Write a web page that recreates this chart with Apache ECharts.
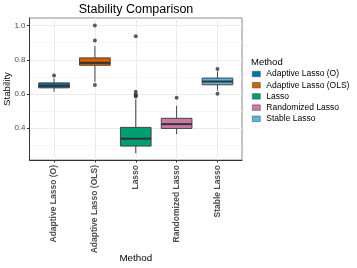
<!DOCTYPE html>
<html><head><meta charset="utf-8">
<script src="https://cdn.jsdelivr.net/npm/echarts@6/dist/echarts.min.js"></script>
<style>html,body{margin:0;padding:0;background:#fff}#c{width:357px;height:268px}</style>
</head><body><div id="c"></div>
<script>
const categories = ['Adaptive Lasso (O)', 'Adaptive Lasso (OLS)', 'Lasso', 'Randomized Lasso', 'Stable Lasso'];
const colors = ['#0072B2', '#D55E00', '#009E73', '#CC79A7', '#56B4E9'];
// [lower whisker, Q1, median, Q3, upper whisker]
const boxStats = [
  [0.613, 0.636, 0.648, 0.665, 0.691],
  [0.671, 0.768, 0.782, 0.811, 0.881],
  [0.254, 0.296, 0.339, 0.405, 0.569],
  [0.366, 0.399, 0.424, 0.458, 0.531],
  [0.620, 0.654, 0.673, 0.693, 0.732]
];
// outliers: [category index, value]
const outliers = [
  [0, 0.708],
  [1, 1.000], [1, 0.913], [1, 0.652],
  [2, 0.938], [2, 0.613], [2, 0.597], [2, 0.591], [2, 0.585],
  [3, 0.578],
  [4, 0.746], [4, 0.601]
];
const yMajor = [0.4, 0.6, 0.8, 1.0];
const yMinor = [0.3, 0.5, 0.7, 0.9];
const xTicks = [0, 1, 2, 3, 4];

const FONT = 'Liberation Sans';
const chart = echarts.init(document.getElementById('c'), null, {renderer: 'canvas'});

function renderBox(params, api) {
  const x = api.value(0);
  const lo = api.coord([x, api.value(1)]);
  const q1 = api.coord([x, api.value(2)]);
  const med = api.coord([x, api.value(3)]);
  const q3 = api.coord([x, api.value(4)]);
  const hi = api.coord([x, api.value(5)]);
  const half = api.size([0.75, 0])[0] / 2;
  const color = api.visual('color');
  const edge = '#444444';
  return {type: 'group', children: [
    {type: 'line', shape: {x1: lo[0], y1: lo[1], x2: q1[0], y2: q1[1]}, style: {stroke: edge, lineWidth: 1}},
    {type: 'line', shape: {x1: q3[0], y1: q3[1], x2: hi[0], y2: hi[1]}, style: {stroke: edge, lineWidth: 1}},
    {type: 'rect', shape: {x: q3[0] - half, y: q3[1], width: half * 2, height: q1[1] - q3[1]}, style: {fill: color, stroke: edge, lineWidth: 1}},
    {type: 'line', shape: {x1: med[0] - half, y1: med[1], x2: med[0] + half, y2: med[1]}, style: {stroke: '#333333', lineWidth: 2}}
  ]};
}

const series = categories.map((name, i) => ({
  name: name,
  type: 'custom',
  renderItem: renderBox,
  itemStyle: {color: colors[i], borderColor: '#444', borderWidth: 0.8},
  encode: {x: 0, y: [1, 2, 3, 4, 5]},
  data: [[i].concat(boxStats[i])],
  z: 3
}));
series.push({
  name: 'outliers',
  type: 'scatter',
  data: outliers,
  symbolSize: 4,
  itemStyle: {color: '#333333'},
  z: 4
});

chart.setOption({
  animation: false,
  backgroundColor: '#ffffff',
  textStyle: {fontFamily: FONT},
  title: [
    {text: 'Stability Comparison', left: 136, top: 3, textAlign: 'center', padding: 0,
     textStyle: {fontFamily: FONT, fontSize: 12.5, fontWeight: 'normal', color: '#000'}},
    {text: 'Method', left: 251, top: 57.5, padding: 0,
     textStyle: {fontFamily: FONT, fontSize: 9.5, fontWeight: 'normal', color: '#000'}}
  ],
  legend: {
    data: categories,
    orient: 'vertical',
    left: 252, top: 69.5, padding: 0,
    itemWidth: 8, itemHeight: 5.5, itemGap: 2.2,
    icon: 'rect',
    textStyle: {fontFamily: FONT, fontSize: 8.5, color: '#000', padding: [0, 0, 0, 1]},
    itemStyle: {borderColor: '#555', borderWidth: 0.6}
  },
  grid: {left: 29.5, top: 18, right: 115, bottom: 108, outerBoundsMode: 'none', containLabel: false,
    show: true, borderColor: '#8a8a8a', borderWidth: 1},
  xAxis: {
    type: 'value', min: -0.6, max: 4.6,
    name: 'Method', nameLocation: 'middle', nameGap: 93, nameMoveOverlap: false,
    nameTextStyle: {fontFamily: FONT, fontSize: 9.8, color: '#000'},
    axisLine: {show: true, onZero: false, lineStyle: {color: '#333', width: 1}},
    axisTick: {show: true, length: 2.5, customValues: xTicks, lineStyle: {color: '#333'}},
    axisLabel: {customValues: xTicks, rotate: 90, margin: 5, fontFamily: FONT, fontSize: 8.5, fontWeight: 'bold', color: '#4d4d4d',
      formatter: v => categories[Math.round(v)] || ''},
    splitLine: {show: true, lineStyle: {color: '#ebebeb', width: 1}}
  },
  yAxis: [{
    type: 'value', min: 0.2146, max: 1.044,
    name: 'Stability', nameLocation: 'middle', nameGap: 17, nameMoveOverlap: false,
    nameTextStyle: {fontFamily: FONT, fontSize: 9.7, color: '#000'},
    axisLine: {show: true, onZero: false, lineStyle: {color: '#333', width: 1}},
    axisTick: {show: true, length: 2.5, customValues: yMajor, lineStyle: {color: '#333'}},
    axisLabel: {customValues: yMajor, margin: 4, fontFamily: FONT, fontSize: 8, color: '#4d4d4d', formatter: v => v.toFixed(1)},
    splitLine: {show: true, lineStyle: {color: '#ebebeb', width: 1}}
  }, {
    type: 'value', min: 0.2146, max: 1.044, position: 'left',
    axisLine: {show: false, onZero: false}, axisLabel: {show: false},
    axisTick: {show: false, customValues: yMinor},
    splitLine: {show: true, lineStyle: {color: '#f5f5f5', width: 1}}
  }],
  series: series
});
</script></body></html>
